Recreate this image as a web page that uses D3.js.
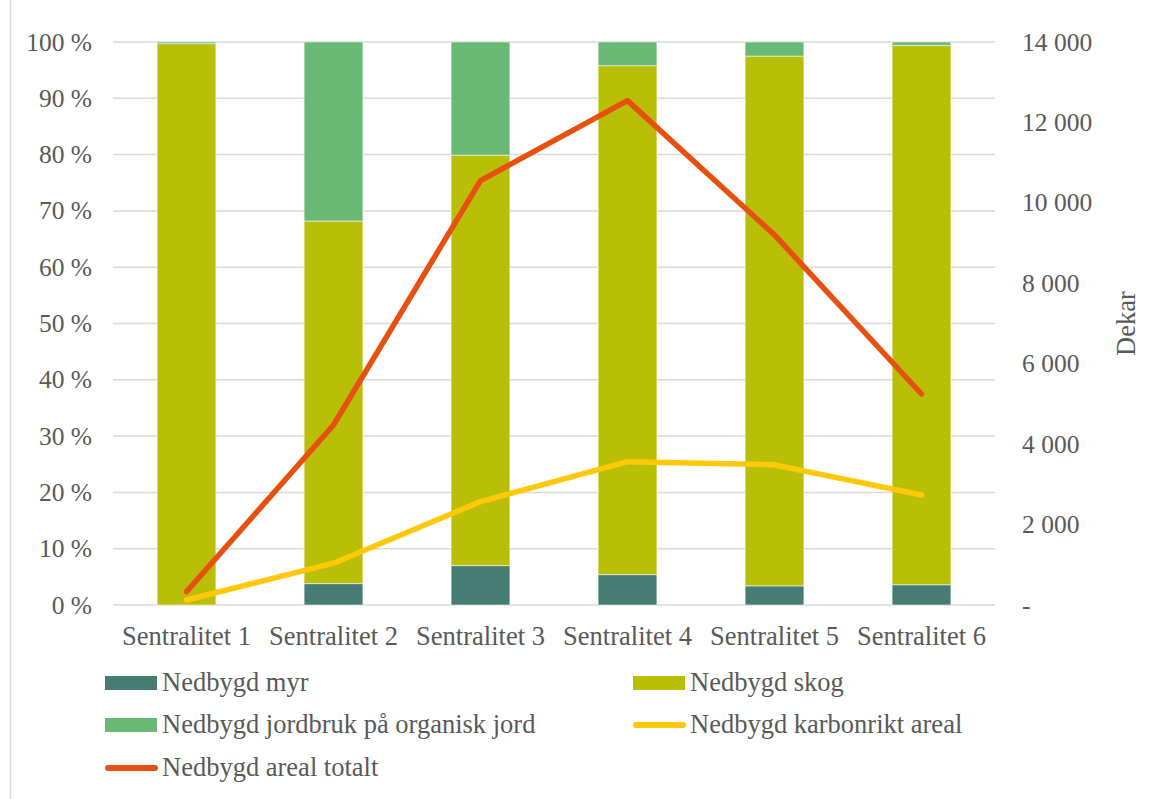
<!DOCTYPE html>
<html>
<head>
<meta charset="utf-8">
<script src="https://cdn.jsdelivr.net/npm/d3@7"></script>
<style>
  html, body { margin: 0; padding: 0; background: #fff; }
  svg { display: block; }
</style>
</head>
<body>
<svg id="chart" width="1160" height="799" font-family="Liberation Serif, Tinos, DejaVu Serif, serif"></svg>
<script>
// Categories and values (share of built-up area, %, and area in dekar)
const categories = ["Sentralitet 1", "Sentralitet 2", "Sentralitet 3", "Sentralitet 4", "Sentralitet 5", "Sentralitet 6"];
const myr      = [0.0, 3.8, 7.0, 5.4, 3.4, 3.6];
const skog     = [99.7, 64.4, 72.9, 90.4, 94.1, 95.8];
const jordbruk = [0.3, 31.8, 20.1, 4.2, 2.5, 0.6];
const karbonrikt = [124, 1040, 2570, 3565, 3485, 2736];
const totalt     = [330, 4476, 10552, 12542, 9202, 5247];
const leftTicks  = [0, 10, 20, 30, 40, 50, 60, 70, 80, 90, 100];
const rightTicks = [0, 2000, 4000, 6000, 8000, 10000, 12000, 14000];

const barSeries = [
  { key: "myr", label: "Nedbygd myr", color: "#467c73" },
  { key: "skog", label: "Nedbygd skog", color: "#b8bf06" },
  { key: "jordbruk", label: "Nedbygd jordbruk på organisk jord", color: "#69b874" }
];

const table = categories.map((c, i) => ({ cat: c, myr: myr[i], skog: skog[i], jordbruk: jordbruk[i] }));

const svg = d3.select("#chart");
const plot = { left: 113, right: 995, top: 42, bottom: 605 };
const textColor = "#595959";
const labelSize = 26.5;
const tickSize = 25.5;
const serif = "Liberation Serif, Tinos, DejaVu Serif, serif";

// outer frame edge
svg.append("line").attr("x1", 10.5).attr("x2", 10.5).attr("y1", 0).attr("y2", 799)
  .attr("stroke", "#d9d9d9").attr("stroke-width", 1.5);

const x = d3.scaleBand().domain(categories).range([plot.left, plot.right])
  .paddingInner(0.6).paddingOuter(0.3);
const yL = d3.scaleLinear().domain([0, 100]).range([plot.bottom, plot.top]);
const yR = d3.scaleLinear().domain([0, 14000]).range([plot.bottom, plot.top]);

// gridlines
svg.append("g").selectAll("line").data(leftTicks).join("line")
  .attr("x1", plot.left).attr("x2", plot.right)
  .attr("y1", d => yL(d)).attr("y2", d => yL(d))
  .attr("stroke", "#d9d9d9").attr("stroke-width", 1.5);

// tidy axis labels: serif face, fixed pixel baseline offset
function styleAxis(g, yOffset, size) {
  g.attr("font-family", serif).attr("font-size", size);
  g.select(".domain").remove();
  g.selectAll("text").attr("fill", textColor).attr("dy", null).attr("y", yOffset);
}

// left axis
svg.append("g").attr("transform", `translate(${plot.left - 21},0)`)
  .call(d3.axisLeft(yL).tickValues(leftTicks).tickSize(0).tickPadding(0).tickFormat(d => d + " %"))
  .call(styleAxis, 8, tickSize);

// right axis
svg.append("g").attr("transform", `translate(${plot.right + 27},0)`)
  .call(d3.axisRight(yR).tickValues(rightTicks).tickSize(0).tickPadding(0)
    .tickFormat(d => d === 0 ? "-" : d3.format(",")(d).replace(/,/g, " ")))
  .call(styleAxis, 8, tickSize);

// right axis title
svg.append("text")
  .attr("transform", `translate(1135,${(plot.top + plot.bottom) / 2}) rotate(-90)`)
  .attr("text-anchor", "middle").attr("fill", textColor).attr("font-size", labelSize)
  .attr("font-family", serif)
  .text("Dekar");

// stacked bars
const stack = d3.stack().keys(barSeries.map(s => s.key));
const stacked = stack(table);
svg.append("g").selectAll("g").data(stacked).join("g")
  .attr("fill", (d, i) => barSeries[i].color)
  .selectAll("rect").data(d => d).join("rect")
  .attr("x", d => x(d.data.cat))
  .attr("width", x.bandwidth())
  .attr("y", d => yL(d[1]))
  .attr("height", d => Math.max(0, yL(d[0]) - yL(d[1])))
  .attr("stroke", "#ffffff").attr("stroke-opacity", 0.55).attr("stroke-width", 1);

// category axis
svg.append("g").attr("transform", `translate(0,${plot.bottom})`)
  .call(d3.axisBottom(x).tickSize(0).tickPadding(0))
  .call(styleAxis, 40, labelSize);

// lines on the right scale
const line = d3.line().x((d, i) => x(categories[i]) + x.bandwidth() / 2).y(d => yR(d));
svg.append("path").datum(karbonrikt).attr("d", line).attr("fill", "none")
  .attr("stroke", "#ffc90a").attr("stroke-width", 5.5)
  .attr("stroke-linecap", "round").attr("stroke-linejoin", "round");
svg.append("path").datum(totalt).attr("d", line).attr("fill", "none")
  .attr("stroke", "#e8500f").attr("stroke-width", 5.5)
  .attr("stroke-linecap", "round").attr("stroke-linejoin", "round");

// legend
const legendItems = [
  { label: "Nedbygd myr", color: "#467c73", type: "rect", col: 0, row: 0 },
  { label: "Nedbygd skog", color: "#b8bf06", type: "rect", col: 1, row: 0 },
  { label: "Nedbygd jordbruk på organisk jord", color: "#69b874", type: "rect", col: 0, row: 1 },
  { label: "Nedbygd karbonrikt areal", color: "#ffc90a", type: "line", col: 1, row: 1 },
  { label: "Nedbygd areal totalt", color: "#e8500f", type: "line", col: 0, row: 2 }
];
const colX = [105, 633];
const rowY = [683, 725, 768];
const lg = svg.append("g").attr("font-family", serif).attr("font-size", labelSize)
  .selectAll("g").data(legendItems).join("g")
  .attr("transform", d => `translate(${colX[d.col]},${rowY[d.row]})`);
lg.filter(d => d.type === "rect").append("rect")
  .attr("x", 0).attr("y", -7).attr("width", 52).attr("height", 14).attr("fill", d => d.color);
lg.filter(d => d.type === "line").append("line")
  .attr("x1", 3).attr("x2", 50).attr("y1", 0).attr("y2", 0)
  .attr("stroke", d => d.color).attr("stroke-width", 6).attr("stroke-linecap", "round");
lg.append("text").attr("x", 57).attr("y", 8)
  .attr("fill", textColor).text(d => d.label);
</script>
</body>
</html>
